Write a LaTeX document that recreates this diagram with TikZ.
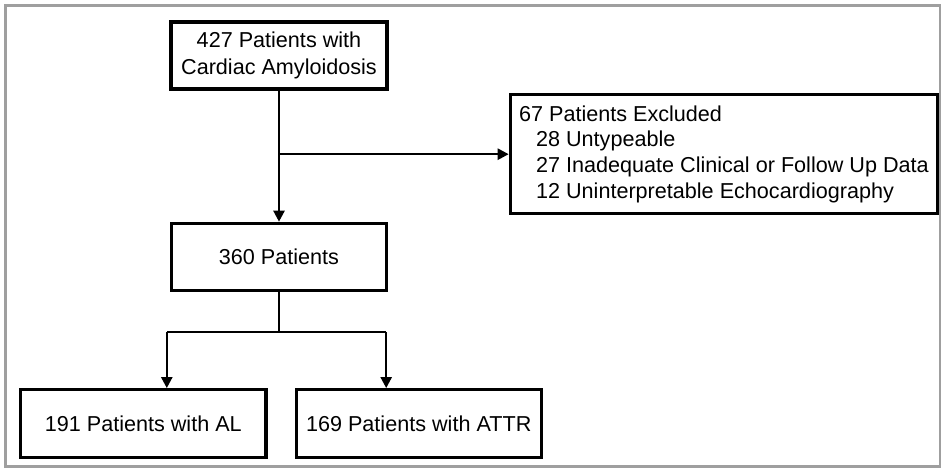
\documentclass[tikz,border=0pt]{standalone}
\usepackage{fontspec}
\setmainfont{Liberation Sans}
\usetikzlibrary{arrows.meta,positioning}

\begin{document}
\begin{tikzpicture}[
  box/.style={rectangle, draw, line width=1.7pt, align=center, inner sep=0pt,
    font=\fontsize{10.8pt}{13.5pt}\selectfont},
  link/.style={draw, line width=1.2pt},
  arr/.style={link, -{Triangle[length=5.5pt, width=5.5pt]}}
]
  \useasboundingbox (-139.5pt,27.75pt) rectangle (331pt,-206.75pt);
  \draw[gray!75, line width=1.5pt] (-136.5pt,24.75pt) rectangle (330.5pt,-205.75pt);

  \node[box, minimum width=108pt, minimum height=33.5pt] (total) {427 Patients with\\Cardiac Amyloidosis};
  \node[box, minimum width=107.5pt, minimum height=33.5pt, below=65.5pt of total] (incl) {360 Patients};
  \node[box, minimum width=213.5pt, minimum height=59.5pt, align=left, inner xsep=1.5pt,
    font=\fontsize{10.8pt}{12.85pt}\selectfont, below right=18.75pt and 60pt of total.east] (excl)
    {67 Patients Excluded\\
     \hspace*{8.5pt}28 Untypeable\\
     \hspace*{8.5pt}27 Inadequate Clinical or Follow Up Data\\
     \hspace*{8.5pt}12 Uninterpretable Echocardiography\hspace*{\fill}};
  \node[box, minimum width=122.5pt, minimum height=34pt, below left=48pt and 5.75pt of incl.south] (al) {191 Patients with AL};
  \node[box, minimum width=122.5pt, minimum height=34pt, below right=48pt and 7.75pt of incl.south] (attr) {169 Patients with ATTR};

  \draw[arr] (total) -- (incl);
  \draw[arr] (total.south |- excl.west) -- (excl.west);
  \draw[link] (incl.south) -- ++(0,-20pt) coordinate (split);
  \draw[link] ([xshift=-1.5pt]split -| incl.west) -- ([xshift=-1pt]split -| incl.east);
  \draw[arr] ([xshift=-1.5pt]split -| incl.west) -- ([xshift=-1.5pt]incl.west |- al.north);
  \draw[arr] ([xshift=-1pt]split -| incl.east) -- ([xshift=-1pt]incl.east |- attr.north);
\end{tikzpicture}
\end{document}
